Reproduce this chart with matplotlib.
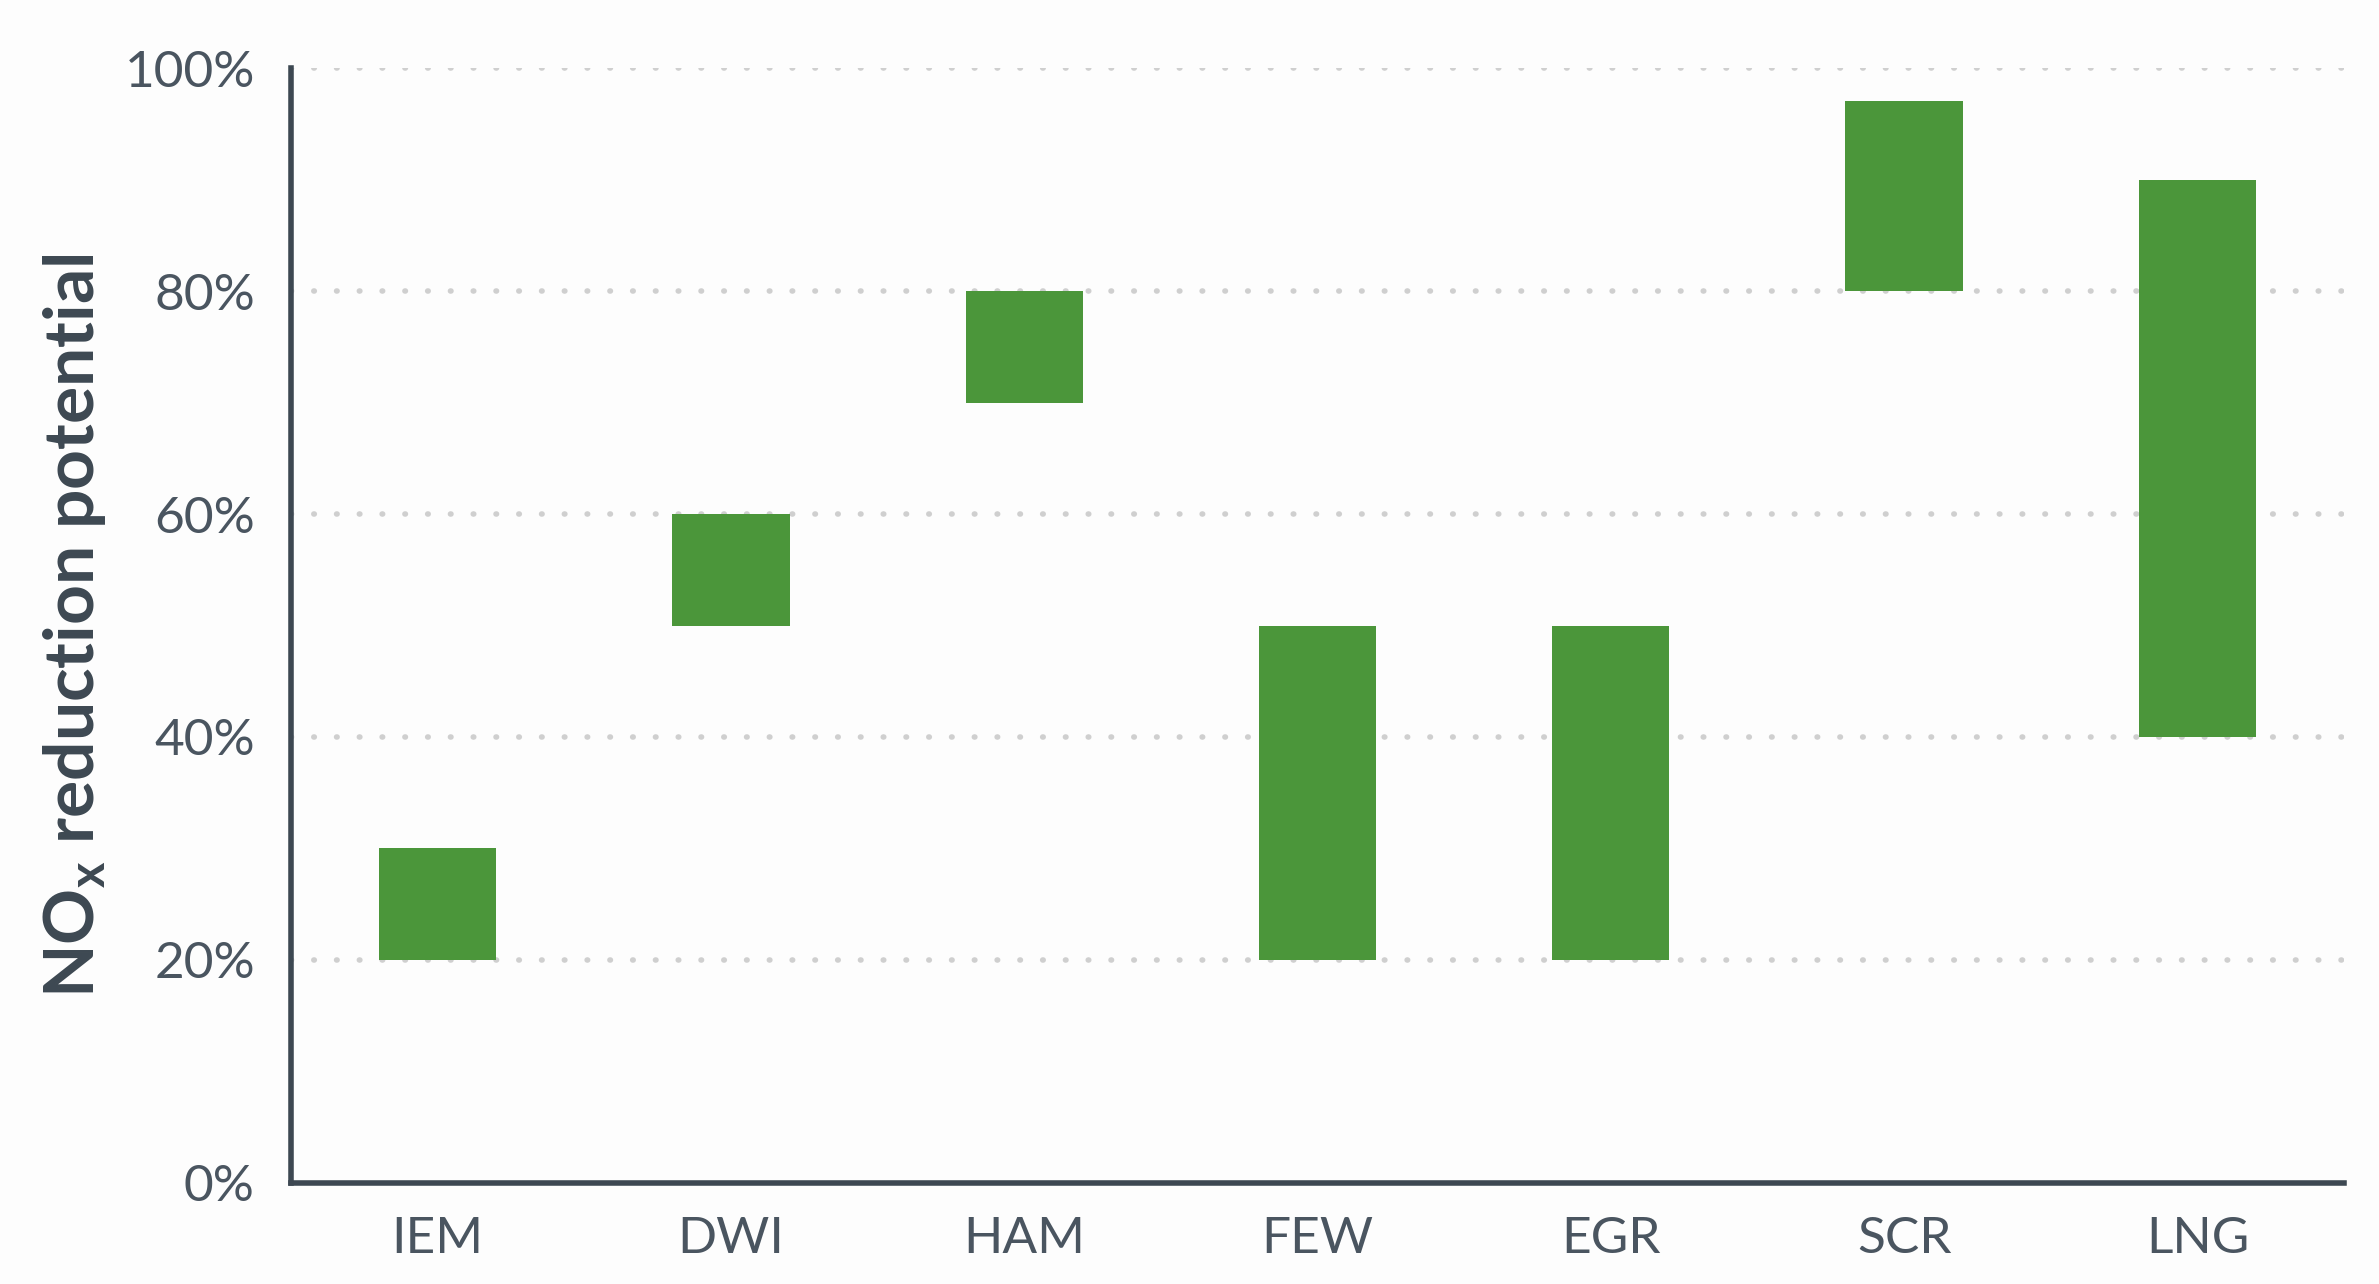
import matplotlib.pyplot as plt

# Data: NOx reduction potential ranges (%) per technology
techs = ['IEM', 'DWI', 'HAM', 'FEW', 'EGR', 'SCR', 'LNG']
low = [20, 50, 70, 20, 20, 80, 40]
high = [30, 60, 80, 50, 50, 97, 90]
yticks = [0, 20, 40, 60, 80, 100]

bar_color = '#4b963a'
axis_color = '#3d4852'
text_color = '#4a5560'

plt.rcParams['font.family'] = ['Lato', 'DejaVu Sans']

fig = plt.figure(figsize=(23.79, 12.84), dpi=100, facecolor='#fdfdfd')
ax = fig.add_axes([0.1223, 0.0787, 0.863, 0.8683], facecolor='#fdfdfd')

# dotted gridlines
for y in yticks[1:]:
    ax.axhline(y, color='#cfcfcf', linewidth=4, linestyle=(0, (0.1, 4)),
               dash_capstyle='round', zorder=1)

x = range(len(techs))
heights = [h - l for h, l in zip(high, low)]
ax.bar(x, heights, bottom=low, width=0.4, color=bar_color, zorder=2)

ax.set_xlim(-0.5, 6.5)
ax.set_ylim(0, 100)
ax.set_xticks(list(x))
ax.set_xticklabels(techs)
ax.set_yticks(yticks)
ax.set_yticklabels([f'{v}%' for v in yticks])
ax.tick_params(axis='both', length=0, labelsize=37, labelcolor=text_color)
ax.tick_params(axis='x', pad=24)
ax.tick_params(axis='y', pad=26)

for s in ['top', 'right']:
    ax.spines[s].set_visible(False)
for s in ['left', 'bottom']:
    ax.spines[s].set_color(axis_color)
    ax.spines[s].set_linewidth(4)

ax.set_ylabel(r'NO$_{\mathregular{x}}$ reduction potential', fontsize=50,
              fontweight='bold', color=axis_color, labelpad=12)

fig.savefig('out.png', dpi=100, facecolor=fig.get_facecolor())
